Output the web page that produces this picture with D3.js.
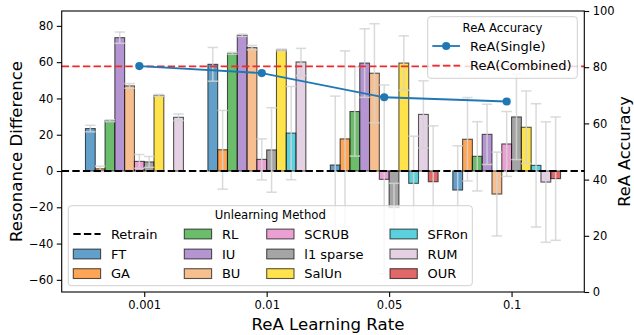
<!DOCTYPE html>
<html>
<head>
<meta charset="utf-8">
<script src="https://cdn.jsdelivr.net/npm/d3@7"></script>
<style>
  body { margin: 0; background: #fff; }
  svg { display: block; font-family: "DejaVu Sans", sans-serif; }
</style>
</head>
<body>
<svg id="chart" width="634" height="335"></svg>
<script>
// ReA learning rates (x categories)
const rates = ["0.001", "0.01", "0.05", "0.1"];

// Unlearning methods and their bar colours
const methods = ["FT", "GA", "RL", "IU", "BU", "SCRUB", "l1 sparse", "SalUn", "SFRon", "RUM", "OUR"];
const methodColors = ["#1f77b4", "#ff7f0e", "#2ca02c", "#9467bd", "#f4a460", "#e377c2",
                      "#7f7f7f", "#ffd700", "#17becf", "#d8bfd8", "#d62728"];

// Resonance difference (mean) per method, one array per learning rate
const diffLr0001 = [23.4, 1.2, 27.7, 73.5, 46.9, 5.3, 5.0, 41.7, 0, 29.6, 0];
const diffLr001  = [58.8, 11.7, 64.9, 74.8, 68.0, 6.4, 11.6, 66.7, 20.9, 60.1, 0];
const diffLr005  = [3.3, 17.7, 32.8, 59.5, 53.9, -4.6, -20.2, 59.5, -6.8, 31.2, -5.9];
const diffLr01   = [-10.5, 17.5, 8.1, 20.2, -12.7, 14.9, 29.8, 24.1, 3.1, -6.1, -4.2];

// Standard deviation per method, one array per learning rate
const errLr0001 = [1.8, 1.5, 0.5, 3.1, 1.3, 3.8, 3.0, 0.5, 0, 1.8, 0];
const errLr001  = [9.3, 21.7, 0.5, 0.6, 1.2, 11.3, 23.3, 0.5, 25.7, 7.5, 0];
const errLr005  = [38.0, 48.5, 24.6, 18.9, 27.3, 52.0, 13.4, 15.0, 26.0, 18.5, 30.8];
const errLr01   = [24.4, 23.0, 19.1, 16.6, 23.1, 17.9, 23.5, 20.0, 34.0, 33.2, 34.0];

// ReA accuracy on the right axis
const reaSingle = [80.4, 77.9, 69.3, 67.8];
const reaCombined = 80.3;

// Axis ticks
const leftTicks = [-60, -40, -20, 0, 20, 40, 60, 80];
const rightTicks = [0, 20, 40, 60, 80, 100];

const diffByRate = [diffLr0001, diffLr001, diffLr005, diffLr01];
const errByRate = [errLr0001, errLr001, errLr005, errLr01];

const bars = [];
rates.forEach((r, gi) => {
  methods.forEach((m, mi) => {
    bars.push({ group: gi, method: mi, value: diffByRate[gi][mi], err: errByRate[gi][mi] });
  });
});

const svg = d3.select("#chart");
const plot = { left: 61.7, right: 584.3, top: 11, bottom: 292 };
const barW = 0.08;

const x = d3.scaleLinear().domain([-0.674, 3.594]).range([plot.left, plot.right]);
const yL = d3.scaleLinear().domain([-66.7, 88.2]).range([plot.bottom, plot.top]);
const yR = d3.scaleLinear().domain([0, 100]).range([plot.bottom, plot.top]);

const barX = d => d.group + (d.method - 5.5) * barW;

// Bars
const gBars = svg.append("g");
gBars.selectAll("rect").data(bars).join("rect")
  .attr("x", d => x(barX(d) - barW / 2))
  .attr("width", x(barW) - x(0))
  .attr("y", d => yL(Math.max(0, d.value)))
  .attr("height", d => Math.abs(yL(d.value) - yL(0)))
  .attr("fill", d => methodColors[d.method])
  .attr("fill-opacity", 0.7)
  .attr("stroke", "#000")
  .attr("stroke-opacity", 0.65)
  .attr("stroke-width", 1.1);

// Error bars
const errBars = bars.filter(d => d.err > 0);
const gErr = svg.append("g")
  .attr("stroke", "#d3d3d3").attr("stroke-opacity", 0.85).attr("stroke-width", 1.5);
const capHalf = 5.2;
errBars.forEach(d => {
  const cx = x(barX(d));
  const y1 = yL(d.value + d.err), y2 = yL(d.value - d.err);
  gErr.append("line").attr("x1", cx).attr("x2", cx).attr("y1", y1).attr("y2", y2);
  gErr.append("line").attr("x1", cx - capHalf).attr("x2", cx + capHalf).attr("y1", y1).attr("y2", y1);
  gErr.append("line").attr("x1", cx - capHalf).attr("x2", cx + capHalf).attr("y1", y2).attr("y2", y2);
});

// Retrain reference line at zero
svg.append("line")
  .attr("x1", plot.left).attr("x2", plot.right)
  .attr("y1", yL(0)).attr("y2", yL(0))
  .attr("stroke", "#000").attr("stroke-width", 2)
  .attr("stroke-dasharray", "7.4,3.2");

// ReA(Combined) reference line
svg.append("line")
  .attr("x1", plot.left).attr("x2", plot.right)
  .attr("y1", yR(reaCombined)).attr("y2", yR(reaCombined))
  .attr("stroke", "#ee2a2a").attr("stroke-width", 1.8)
  .attr("stroke-dasharray", "7.4,3.2");

// ReA(Single) line with markers
const singlePts = reaSingle.map((v, i) => ({ xv: i - barW / 2, v }));
svg.append("path")
  .datum(singlePts)
  .attr("fill", "none").attr("stroke", "#1f77b4").attr("stroke-width", 1.8)
  .attr("d", d3.line().x(d => x(d.xv)).y(d => yR(d.v)));
svg.append("g").selectAll("circle").data(singlePts).join("circle")
  .attr("cx", d => x(d.xv)).attr("cy", d => yR(d.v)).attr("r", 4.1)
  .attr("fill", "#1f77b4");

// Frame
svg.append("rect")
  .attr("x", plot.left).attr("y", plot.top)
  .attr("width", plot.right - plot.left).attr("height", plot.bottom - plot.top)
  .attr("fill", "none").attr("stroke", "#000").attr("stroke-width", 1.1);

const minus = v => (v < 0 ? "\u2212" + Math.abs(v) : String(v));
const tickFont = "11.5px";

// Left axis
const axL = svg.append("g").attr("transform", `translate(${plot.left},0)`)
  .call(d3.axisLeft(yL).tickValues(leftTicks).tickSize(4.9).tickPadding(3.5).tickFormat(minus));
// Right axis
const axR = svg.append("g").attr("transform", `translate(${plot.right},0)`)
  .call(d3.axisRight(yR).tickValues(rightTicks).tickSize(4.9).tickPadding(3.5));
// Bottom axis
const axB = svg.append("g").attr("transform", `translate(0,${plot.bottom})`)
  .call(d3.axisBottom(x).tickValues(d3.range(rates.length)).tickSize(4.9).tickPadding(3.5)
        .tickFormat(i => rates[i]));
[axL, axR, axB].forEach(a => {
  a.select(".domain").remove();
  a.selectAll("line").attr("stroke", "#000").attr("stroke-width", 1.1);
  a.selectAll("text").attr("fill", "#000").style("font-size", tickFont)
    .style("font-family", "DejaVu Sans, sans-serif");
});

// Axis titles
svg.append("text")
  .attr("transform", `translate(21.5,${(plot.top + plot.bottom) / 2}) rotate(-90)`)
  .attr("text-anchor", "middle").style("font-size", "16.6px").attr("fill", "#000")
  .text("Resonance Difference");
svg.append("text")
  .attr("transform", `translate(629.6,${(plot.top + plot.bottom) / 2}) rotate(-90)`)
  .attr("text-anchor", "middle").style("font-size", "16.2px").attr("fill", "#000")
  .text("ReA Accuracy");
svg.append("text")
  .attr("x", x(1.5)).attr("y", 330)
  .attr("text-anchor", "middle").style("font-size", "16.6px").attr("fill", "#000")
  .text("ReA Learning Rate");

// Legend: unlearning methods
const leg1 = svg.append("g");
leg1.append("rect")
  .attr("x", 68.3).attr("y", 205.7).attr("width", 404).attr("height", 80)
  .attr("rx", 3).attr("fill", "#fff").attr("fill-opacity", 0.8)
  .attr("stroke", "#d0d0d0").attr("stroke-width", 1);
leg1.append("text").attr("x", 270.3).attr("y", 219.3).attr("text-anchor", "middle")
  .style("font-size", "11.7px").attr("fill", "#000").text("Unlearning Method");

const legendEntries = [{ label: "Retrain", kind: "line" }]
  .concat(methods.map((m, i) => ({ label: m, kind: "patch", color: methodColors[i] })));
const colHandleX = [73.3, 184.3, 266.7, 390];
const rowY = [234, 254, 273.6];
const handleW = 27.3;
legendEntries.forEach((e, i) => {
  const col = Math.floor(i / 3), row = i % 3;
  const hx = colHandleX[col], cy = rowY[row];
  if (e.kind === "line") {
    leg1.append("line").attr("x1", hx).attr("x2", hx + handleW).attr("y1", cy).attr("y2", cy)
      .attr("stroke", "#000").attr("stroke-width", 2).attr("stroke-dasharray", "7.4,3.2");
  } else {
    leg1.append("rect").attr("x", hx).attr("y", cy - 4.9).attr("width", handleW).attr("height", 9.8)
      .attr("fill", e.color).attr("fill-opacity", 0.7)
      .attr("stroke", "#000").attr("stroke-opacity", 0.65).attr("stroke-width", 1.1);
  }
  leg1.append("text").attr("x", hx + handleW + 10.3).attr("y", cy + 4.7)
    .style("font-size", "13px").attr("fill", "#000").text(e.label);
});

// Legend: ReA accuracy
const leg2 = svg.append("g");
leg2.append("rect")
  .attr("x", 427.7).attr("y", 16.7).attr("width", 149.6).attr("height", 61.6)
  .attr("rx", 3).attr("fill", "#fff").attr("fill-opacity", 0.8)
  .attr("stroke", "#d0d0d0").attr("stroke-width", 1);
leg2.append("text").attr("x", 502.5).attr("y", 31.8).attr("text-anchor", "middle")
  .style("font-size", "11.7px").attr("fill", "#000").text("ReA Accuracy");
leg2.append("line").attr("x1", 432.3).attr("x2", 460).attr("y1", 46).attr("y2", 46)
  .attr("stroke", "#1f77b4").attr("stroke-width", 1.8);
leg2.append("circle").attr("cx", 446.2).attr("cy", 46).attr("r", 4.1).attr("fill", "#1f77b4");
leg2.append("text").attr("x", 470).attr("y", 50.7).style("font-size", "13px").attr("fill", "#000")
  .text("ReA(Single)");
leg2.append("line").attr("x1", 432.3).attr("x2", 460).attr("y1", 65.7).attr("y2", 65.7)
  .attr("stroke", "#ee2a2a").attr("stroke-width", 1.8).attr("stroke-dasharray", "7.4,3.2");
leg2.append("text").attr("x", 470).attr("y", 70.4).style("font-size", "13px").attr("fill", "#000")
  .text("ReA(Combined)");
</script>
</body>
</html>
